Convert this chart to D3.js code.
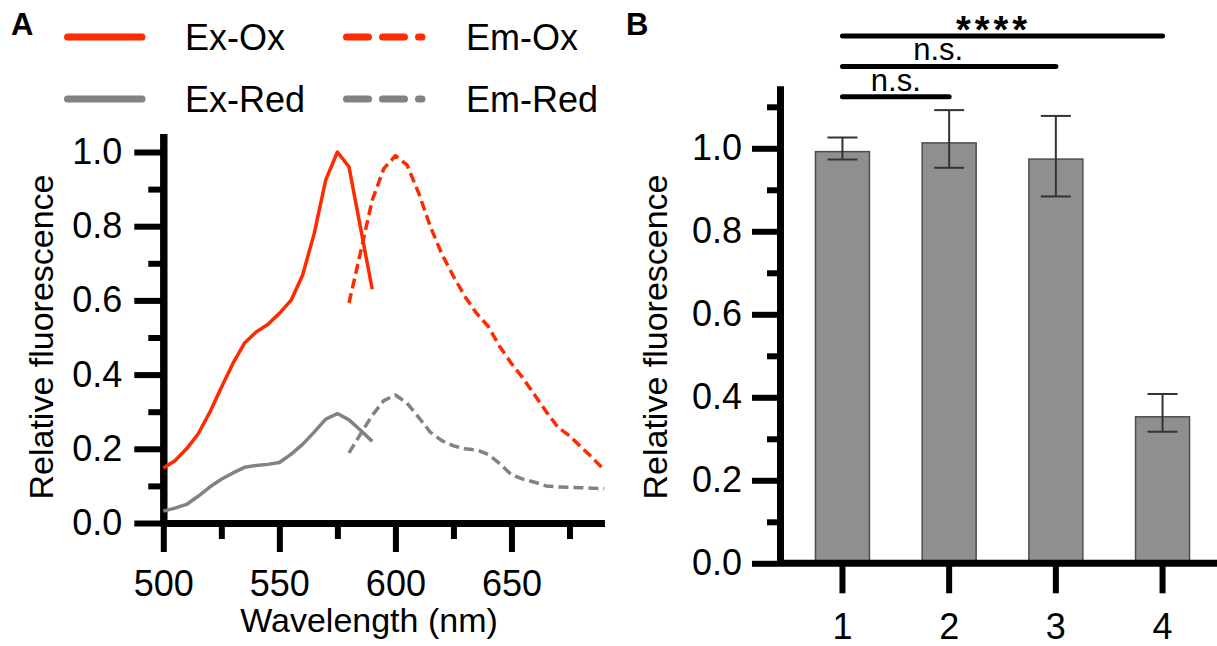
<!DOCTYPE html>
<html>
<head>
<meta charset="utf-8">
<script src="https://cdn.jsdelivr.net/npm/d3@7"></script>
<style>
  body { margin: 0; background: #fff; }
  svg { font-family: "Liberation Sans", Arial, sans-serif; }
  .axis path.domain { stroke: #000; stroke-width: 7px; }
  .axis .tick line { stroke: #000; stroke-width: 6px; }
</style>
</head>
<body>
<div id="chart"></div>
<script>
// panel A: spectra, 5 nm steps
var exWave = [500, 505, 510, 515, 520, 525, 530, 535, 540, 545, 550, 555, 560, 565, 570, 575, 580, 585, 590];
var exOx = [0.148, 0.168, 0.200, 0.240, 0.298, 0.365, 0.430, 0.485, 0.515, 0.535, 0.565, 0.600, 0.668, 0.780, 0.925, 1.000, 0.960, 0.795, 0.630];
var exRed = [0.032, 0.040, 0.050, 0.072, 0.097, 0.118, 0.135, 0.150, 0.155, 0.158, 0.163, 0.185, 0.212, 0.245, 0.280, 0.295, 0.278, 0.250, 0.220];
var emWave = [580, 585, 590, 595, 600, 605, 610, 615, 620, 625, 630, 635, 640, 645, 650, 655, 660, 665, 670, 675, 680, 685, 690];
var emOx = [0.593, 0.730, 0.870, 0.955, 0.990, 0.965, 0.890, 0.800, 0.725, 0.665, 0.610, 0.565, 0.530, 0.475, 0.430, 0.390, 0.345, 0.300, 0.258, 0.235, 0.205, 0.175, 0.143];
var emRed = [0.189, 0.240, 0.290, 0.330, 0.345, 0.323, 0.285, 0.245, 0.222, 0.208, 0.200, 0.197, 0.185, 0.160, 0.130, 0.118, 0.110, 0.100, 0.097, 0.096, 0.095, 0.094, 0.092];
var xTicksA = [500, 550, 600, 650];
var xMinorA = [525, 575, 625, 675];
var yTicks = [0, 0.2, 0.4, 0.6, 0.8, 1.0];
var yMinorA = [0.1, 0.3, 0.5, 0.7, 0.9];

// panel B: bars with error bars
var groups = ["1", "2", "3", "4"];
var means = [0.992, 1.013, 0.974, 0.353];
var errLow = [0.973, 0.953, 0.884, 0.317];
var errHigh = [1.026, 1.092, 1.078, 0.408];
var yMinorB = [0.1, 0.3, 0.5, 0.7, 0.9, 1.1];
var compFrom = ["1", "1", "1"];
var compTo = ["2", "3", "4"];
var compLabel = ["n.s.", "n.s.", "****"];

var red = "#ff2a00", grey = "#828282";

var svg = d3.select("#chart").append("svg")
    .attr("width", 1217)
    .attr("height", 646);

// ---------- panel A ----------
var xA = d3.scaleLinear().domain([500, 690]).range([163.3, 604.3]);
var yA = d3.scaleLinear().domain([0, 1.05]).range([523, 523 - 1.05 * 371]);

function styleAxis(g, labelSize) {
    g.attr("class", "axis");
    g.select(".domain").attr("stroke", "#000").attr("stroke-width", 7);
    g.selectAll(".tick line").attr("stroke", "#000").attr("stroke-width", 6);
    g.selectAll(".tick text").attr("fill", "#000").style("font-size", labelSize + "px")
        .style("font-family", "'Liberation Sans', Arial, sans-serif");
}

svg.append("g").attr("transform", "translate(0,523)")
    .call(d3.axisBottom(xA).tickValues(xMinorA).tickSize(16).tickSizeOuter(0).tickFormat(""))
    .call(styleAxis, 36);
svg.append("g").attr("transform", "translate(0,523)")
    .call(d3.axisBottom(xA).tickValues(xTicksA).tickSize(29).tickSizeOuter(0).tickPadding(18))
    .call(styleAxis, 36);
svg.append("g").attr("transform", "translate(163.3,0)")
    .call(d3.axisLeft(yA).tickValues(yMinorA).tickSize(15).tickSizeOuter(0).tickFormat(""))
    .call(styleAxis, 36);
svg.append("g").attr("transform", "translate(163.3,0)")
    .call(d3.axisLeft(yA).tickValues(yTicks).tickSize(29).tickSizeOuter(0).tickPadding(12).tickFormat(d3.format(".1f")))
    .call(styleAxis, 36);

svg.append("text")
    .attr("transform", "translate(53,337) rotate(-90)")
    .attr("text-anchor", "middle")
    .style("font-size", "34px")
    .text("Relative fluorescence");
svg.append("text")
    .attr("x", 369).attr("y", 632)
    .attr("text-anchor", "middle")
    .style("font-size", "34px")
    .text("Wavelength (nm)");

var series = [
    {name: "Ex-Ox", wave: exWave, vals: exOx, color: red, dashed: false},
    {name: "Em-Ox", wave: emWave, vals: emOx, color: red, dashed: true},
    {name: "Ex-Red", wave: exWave, vals: exRed, color: grey, dashed: false},
    {name: "Em-Red", wave: emWave, vals: emRed, color: grey, dashed: true}
];

var line = d3.line()
    .x(function(d) { return xA(d[0]); })
    .y(function(d) { return yA(d[1]); });

svg.selectAll(".spec").data(series).enter().append("path")
    .attr("class", "spec")
    .attr("d", function(s) { return line(d3.zip(s.wave, s.vals)); })
    .attr("fill", "none")
    .attr("stroke", function(s) { return s.color; })
    .attr("stroke-width", 3.5)
    .attr("stroke-linejoin", "round")
    .attr("stroke-dasharray", function(s) { return s.dashed ? "10,5" : null; });

// legend
var leg = svg.selectAll(".leg").data(series).enter().append("g")
    .attr("class", "leg")
    .attr("transform", function(s, i) {
        return "translate(" + (i % 2 ? 343 : 64) + "," + (i < 2 ? 37 : 99) + ")";
    });
leg.append("line")
    .attr("x1", 3.5).attr("x2", function(s) { return s.dashed ? 79 : 78; })
    .attr("stroke", function(s) { return s.color; })
    .attr("stroke-width", 7)
    .attr("stroke-linecap", "round")
    .attr("stroke-dasharray", function(s) { return s.dashed ? "22,14" : null; });
leg.append("text")
    .attr("x", function(s, i) { return i % 2 ? 123 : 121; }).attr("y", 13)
    .style("font-size", "36px")
    .text(function(s) { return s.name; });

svg.append("text").attr("x", 11).attr("y", 35)
    .style("font-size", "31px").style("font-weight", "bold").text("A");

// ---------- panel B ----------
var xB = d3.scaleBand().domain(groups).range([789, 1216]).paddingInner(0.494).paddingOuter(0.248);
var yB = d3.scaleLinear().domain([0, 1.15]).range([563.3, 563.3 - 1.15 * 415]);

svg.selectAll(".bar").data(groups).enter().append("rect")
    .attr("class", "bar")
    .attr("x", function(g) { return xB(g); })
    .attr("width", xB.bandwidth())
    .attr("y", function(g, i) { return yB(means[i]); })
    .attr("height", function(g, i) { return yB(0) - yB(means[i]); })
    .attr("fill", "#8f8f8f")
    .attr("stroke", "#4d4d4d")
    .attr("stroke-width", 1.5);

var err = svg.selectAll(".err").data(groups).enter().append("g")
    .attr("class", "err")
    .attr("stroke", "#333")
    .attr("stroke-width", 2);
err.append("line")
    .attr("x1", function(g) { return xB(g) + xB.bandwidth() / 2; })
    .attr("x2", function(g) { return xB(g) + xB.bandwidth() / 2; })
    .attr("y1", function(g, i) { return yB(errLow[i]); })
    .attr("y2", function(g, i) { return yB(errHigh[i]); });
[errLow, errHigh].forEach(function(arr) {
    err.append("line")
        .attr("x1", function(g) { return xB(g) + xB.bandwidth() / 2 - 15; })
        .attr("x2", function(g) { return xB(g) + xB.bandwidth() / 2 + 15; })
        .attr("y1", function(g, i) { return yB(arr[i]); })
        .attr("y2", function(g, i) { return yB(arr[i]); });
});

svg.append("g").attr("transform", "translate(0,563.3)")
    .call(d3.axisBottom(xB).tickSize(30).tickSizeOuter(0).tickPadding(20))
    .call(styleAxis, 36)
    .select(".domain").attr("d", "M780,0H1217");
svg.append("g").attr("transform", "translate(780,0)")
    .call(d3.axisLeft(yB).tickValues(yMinorB).tickSize(13).tickSizeOuter(0).tickFormat(""))
    .call(styleAxis, 36);
svg.append("g").attr("transform", "translate(780,0)")
    .call(d3.axisLeft(yB).tickValues(yTicks).tickSize(28).tickSizeOuter(0).tickPadding(10).tickFormat(d3.format(".1f")))
    .call(styleAxis, 36);

svg.append("text")
    .attr("transform", "translate(667,337) rotate(-90)")
    .attr("text-anchor", "middle")
    .style("font-size", "34px")
    .text("Relative fluorescence");

// significance brackets
compLabel.forEach(function(lab, i) {
    var x1 = xB(compFrom[i]) + xB.bandwidth() / 2;
    var x2 = xB(compTo[i]) + xB.bandwidth() / 2;
    var y = yB(1.124) - i * 30.4;
    svg.append("line")
        .attr("x1", x1).attr("x2", x2).attr("y1", y).attr("y2", y)
        .attr("stroke", "#000").attr("stroke-width", 5).attr("stroke-linecap", "round");
    var star = lab.indexOf("*") >= 0;
    svg.append("text")
        .attr("x", (x1 + x2) / 2 - (i ? 11 : 0) + (star ? 2 : 0))
        .attr("y", star ? y + 7 : y - 6)
        .attr("text-anchor", "middle")
        .style("font-size", star ? "38px" : "31px")
        .style("font-weight", star ? "bold" : "normal")
        .style("letter-spacing", star ? "4px" : null)
        .text(lab);
});

svg.append("text").attr("x", 626).attr("y", 35)
    .style("font-size", "31px").style("font-weight", "bold").text("B");
</script>
</body>
</html>
